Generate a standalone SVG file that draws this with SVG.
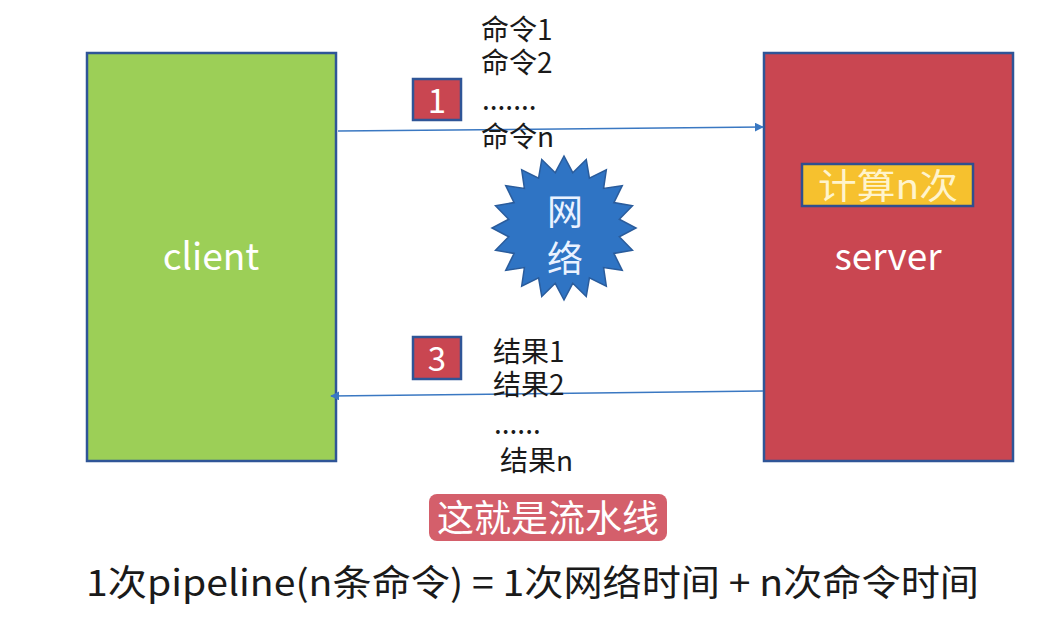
<svg xmlns="http://www.w3.org/2000/svg" width="1054" height="622" viewBox="0 0 1054 622">
<defs>
<style>
.t{font-family:"Noto Sans CJK SC","Liberation Sans",sans-serif;}
.lbl{font-size:28px;fill:#1a1a1a;}
.box{stroke:#2F5597;stroke-width:2.5;}
.conn{stroke:#3A78C2;stroke-width:1.5;fill:none;}
.num{font-size:33px;fill:#ffffff;}
</style>
<marker id="ah" viewBox="0 0 10 10" refX="9" refY="5" markerWidth="9" markerHeight="9" markerUnits="userSpaceOnUse" orient="auto">
<path d="M0,0 L10,5 L0,10 z" fill="#3A78C2"/>
</marker>
</defs>
<rect width="1054" height="622" fill="#ffffff"/>

<g id="client">
<rect x="87" y="53" width="249" height="408" fill="#9CCF57" class="box"/>
<text x="211" y="270" class="t" font-size="37" fill="#ffffff" text-anchor="middle">client</text>
</g>

<g id="server">
<rect x="764" y="53" width="249" height="408" fill="#C94651" class="box"/>
<text x="888" y="270" class="t" font-size="37" fill="#ffffff" text-anchor="middle">server</text>
</g>

<g id="compute">
<rect x="802" y="164" width="171" height="42" fill="#F6C12E" stroke="#2F4F8F" stroke-width="2.5"/>
<text x="888" y="199" class="t" font-size="35" fill="#FFF4CC" text-anchor="middle" textLength="140" lengthAdjust="spacingAndGlyphs">计算n次</text>
</g>

<g id="connectors">
<line x1="338" y1="131" x2="763" y2="127" class="conn" marker-end="url(#ah)"/>
<line x1="763" y1="391" x2="331" y2="396" class="conn" marker-end="url(#ah)"/>
</g>

<g id="step1">
<rect x="413" y="79" width="48" height="41" fill="#C94651" stroke="#2F5597" stroke-width="2.5"/>
<text x="437" y="113" class="t num" text-anchor="middle">1</text>
</g>

<g id="step3">
<rect x="413" y="337" width="48" height="42" fill="#C94651" stroke="#2F5597" stroke-width="2.5"/>
<text x="437" y="371" class="t num" text-anchor="middle">3</text>
</g>

<g id="commands">
<text x="481" y="40" class="t lbl">命令1</text>
<text x="481" y="73" class="t lbl">命令2</text>
<text x="482" y="110" class="t lbl">.......</text>
<text x="481" y="147" class="t lbl">命令n</text>
</g>

<g id="results">
<text x="493" y="362" class="t lbl">结果1</text>
<text x="493" y="395" class="t lbl">结果2</text>
<text x="494" y="434" class="t lbl">......</text>
<text x="500" y="471" class="t lbl">结果n</text>
</g>

<g id="network">
<polygon points="564,156 572.76,172.69 586.25,159.52 589.42,178.10 606.32,169.75 603.60,188.40 622.25,185.68 613.90,202.58 632.48,205.75 619.31,219.24 636,228 619.31,236.76 632.48,250.25 613.90,253.42 622.25,270.32 603.60,267.60 606.32,286.25 589.42,277.90 586.25,296.48 572.76,283.31 564,300 555.24,283.31 541.75,296.48 538.58,277.90 521.68,286.25 524.40,267.60 505.75,270.32 514.10,253.42 495.52,250.25 508.69,236.76 492,228 508.69,219.24 495.52,205.75 514.10,202.58 505.75,185.68 524.40,188.40 521.68,169.75 538.58,178.10 541.75,159.52 555.24,172.69" fill="#2F74C4" stroke="#2A5C9C" stroke-width="1.5"/>
<text x="565" y="225" class="t" font-size="36" fill="#EAF2FF" text-anchor="middle">网</text>
<text x="565" y="272" class="t" font-size="36" fill="#EAF2FF" text-anchor="middle">络</text>
</g>

<g id="pipeline">
<rect x="429" y="494" width="238" height="47" rx="8" fill="#D45F6B"/>
<text x="548" y="532" class="t" font-size="37" fill="#ffffff" text-anchor="middle">这就是流水线</text>
</g>

<g id="formula">
<text x="86" y="596" class="t" font-size="36" fill="#1a1a1a" textLength="893" lengthAdjust="spacingAndGlyphs">1次pipeline(n条命令) = 1次网络时间 + n次命令时间</text>
</g>
</svg>
